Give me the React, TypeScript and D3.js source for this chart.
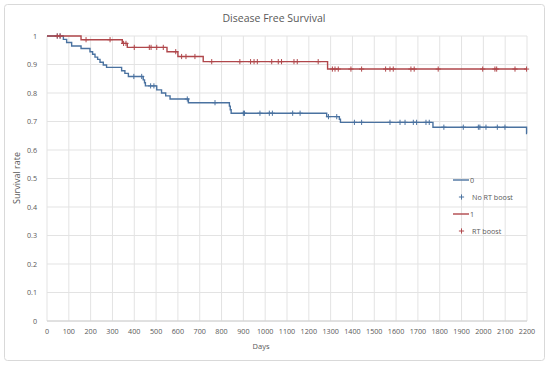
import React from 'react';
import * as d3 from 'd3';

const W = 550;
const H = 366;

// Kaplan-Meier steps: [day, survival]
const noBoostSteps: [number, number][] = [
  [0, 1], [75, 0.988], [90, 0.977], [113, 0.965], [156, 0.956], [197, 0.945],
  [209, 0.936], [220, 0.926], [232, 0.918], [243, 0.908], [258, 0.898],
  [273, 0.89], [342, 0.878], [357, 0.869], [373, 0.858], [441, 0.846],
  [447, 0.836], [451, 0.825], [503, 0.811], [525, 0.8], [544, 0.79],
  [564, 0.779], [648, 0.766], [836, 0.754], [840, 0.741], [844, 0.729],
  [1282, 0.717], [1340, 0.708], [1345, 0.697], [1769, 0.68], [2198, 0.658],
];
const noBoostCensored = [
  47, 60, 398, 434, 475, 490, 643, 770, 900, 905, 976, 1019, 1033, 1126,
  1160, 1290, 1328, 1409, 1442, 1572, 1618, 1641, 1679, 1694, 1737, 1752,
  1819, 1908, 1977, 1984, 2012, 2064, 2099,
];

const boostSteps: [number, number][] = [
  [0, 1], [156, 0.987], [345, 0.974], [368, 0.96], [550, 0.945],
  [600, 0.928], [716, 0.91], [1286, 0.884],
];
const boostCensored = [
  47, 60, 179, 289, 351, 362, 400, 469, 477, 503, 533, 590, 617, 637, 678,
  755, 884, 933, 949, 964, 1030, 1060, 1075, 1132, 1147, 1243, 1308, 1320,
  1335, 1393, 1442, 1552, 1572, 1587, 1668, 1683, 1793, 1997, 2053, 2061,
  2145, 2198,
];

const xTicks = d3.range(0, 2201, 100);
const yTicks = d3.range(0, 11).map(i => i / 10);

const legendItems = [
  { label: '0', kind: 'line', color: '#4a72a0' },
  { label: 'No RT boost', kind: 'plus', color: '#4a72a0' },
  { label: '1', kind: 'line', color: '#b0474b' },
  { label: 'RT boost', kind: 'plus', color: '#b0474b' },
];

const BLUE = '#4a72a0';
const RED = '#b0474b';
const FONT = "'Open Sans', sans-serif";

const x = d3.scaleLinear().domain([0, 2200]).range([47, 527]);
const y = d3.scaleLinear().domain([0, 1]).range([321, 36]);

const stepLine = d3.line<[number, number]>()
  .x(d => x(d[0]))
  .y(d => y(d[1]))
  .curve(d3.curveStepAfter);

const withEnd = (steps: [number, number][]): [number, number][] =>
  [...steps, [2200, steps[steps.length - 1][1]]];

const valueAt = (steps: [number, number][], t: number) => {
  let v = steps[0][1];
  for (const [d, s] of steps) if (d <= t) v = s;
  return v;
};

const Plus = ({ cx, cy, color, s = 2.6 }: { cx: number; cy: number; color: string; s?: number }) => (
  <path d={`M${cx - s},${cy}H${cx + s}M${cx},${cy - s}V${cy + s}`} stroke={color} strokeWidth={1} fill="none" />
);

const App = () => {
  return (
    <div style={{ position: 'fixed', left: 0, top: 0 }}>
      <svg width={W} height={H} style={{ display: 'block', background: '#fff' }}>
        <rect x={4.5} y={4.5} width={540} height={356} rx={3} fill="#fff" stroke="#d9d9d9" />
        <text x={274} y={22} textAnchor="middle" fontFamily={FONT} fontSize={10.5} fill="#595959">
          Disease Free Survival
        </text>

        {xTicks.map(t => (
          <line key={'gx' + t} x1={x(t)} x2={x(t)} y1={y(1)} y2={y(0)} stroke="#e3e3e3" strokeWidth={1} />
        ))}
        {yTicks.map(t => (
          <line key={'gy' + t} x1={x(0)} x2={x(2200)} y1={y(t)} y2={y(t)} stroke="#e3e3e3" strokeWidth={1} />
        ))}
        <line x1={x(0)} x2={x(2200)} y1={y(0)} y2={y(0)} stroke="#d0d0d0" />

        {yTicks.map(t => (
          <text key={'ly' + t} x={37} y={y(t) + 2.5} textAnchor="end" fontFamily={FONT} fontSize={7.2} fill="#595959">
            {d3.format('~g')(t)}
          </text>
        ))}
        {xTicks.map(t => (
          <text key={'lx' + t} x={x(t)} y={334} textAnchor="middle" fontFamily={FONT} fontSize={7.2} fill="#595959">
            {t}
          </text>
        ))}
        <text x={261} y={349} textAnchor="middle" fontFamily={FONT} fontSize={7.5} fill="#595959">Days</text>
        <text transform="translate(20,178) rotate(-90)" textAnchor="middle" fontFamily={FONT} fontSize={9} fill="#595959">
          Survival rate
        </text>

        <path d={stepLine(withEnd(noBoostSteps)) || ''} fill="none" stroke={BLUE} strokeWidth={1.4} />
        {noBoostCensored.map((t, i) => (
          <Plus key={'cb' + i} cx={x(t)} cy={y(valueAt(noBoostSteps, t))} color={BLUE} />
        ))}
        <path d={stepLine(withEnd(boostSteps)) || ''} fill="none" stroke={RED} strokeWidth={1.4} />
        {boostCensored.map((t, i) => (
          <Plus key={'cr' + i} cx={x(t)} cy={y(valueAt(boostSteps, t))} color={RED} />
        ))}

        {legendItems.map((it, i) => {
          const ly = 180 + i * 17;
          return (
            <g key={'lg' + i}>
              {it.kind === 'line'
                ? <line x1={453} x2={469} y1={ly} y2={ly} stroke={it.color} strokeWidth={1.4} />
                : <Plus cx={461.5} cy={ly} color={it.color} />}
              <text x={it.kind === 'line' ? 470 : 472} y={ly + 2.5} fontFamily={FONT} fontSize={7.2} fill="#595959">
                {it.label}
              </text>
            </g>
          );
        })}
      </svg>
    </div>
  );
};

export default App;
